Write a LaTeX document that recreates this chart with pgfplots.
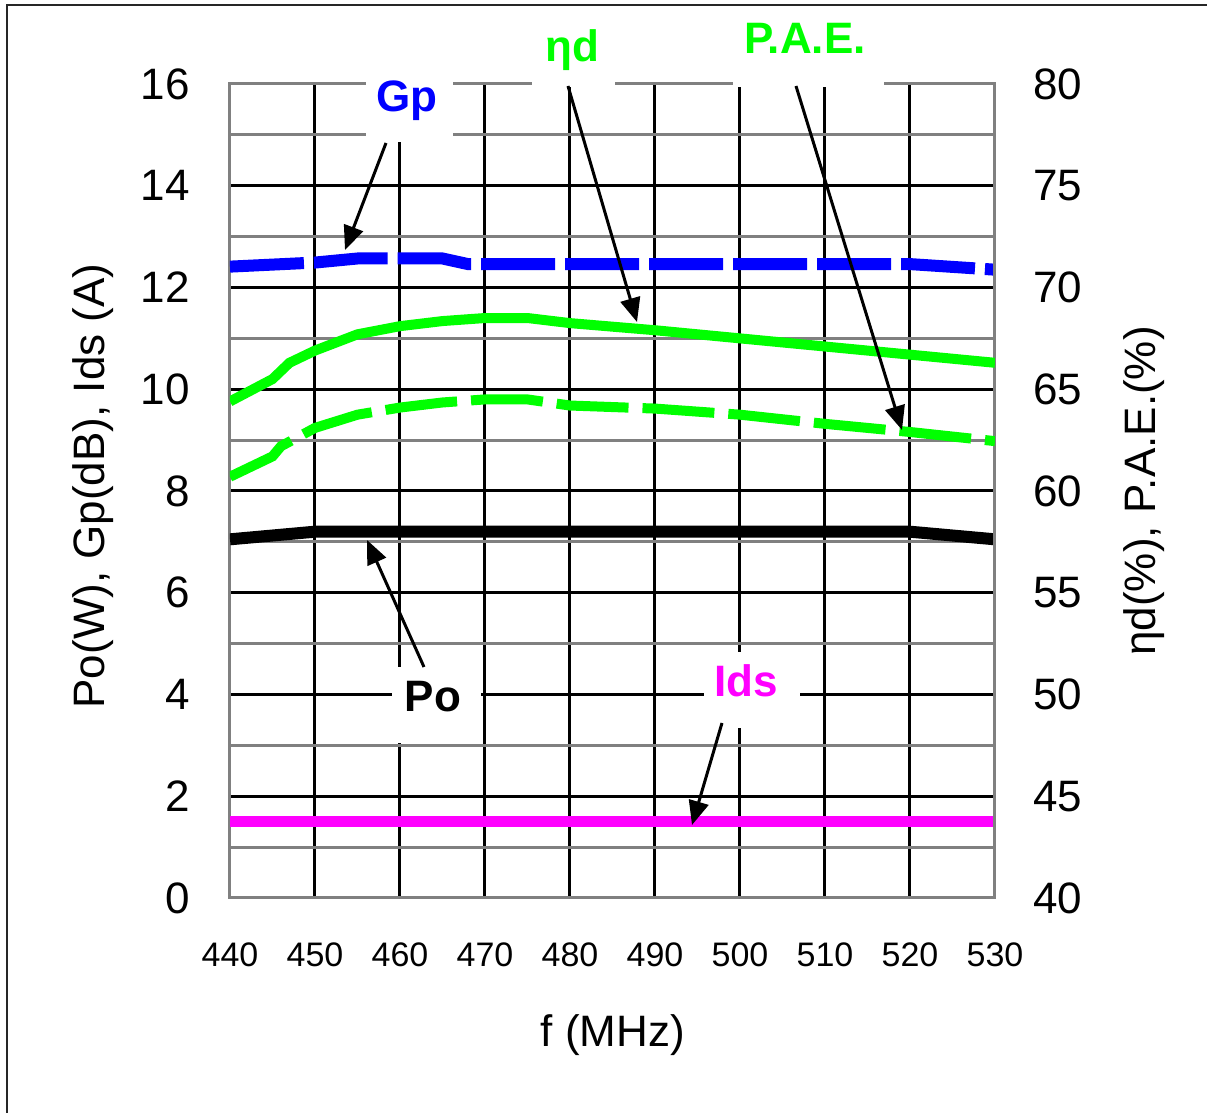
\documentclass[border=0pt]{standalone}
\usepackage{pgfplots}
\pgfplotsset{compat=1.18}
\usepackage{pgfplotstable}
\usepackage{fontspec}
\setmainfont{Liberation Sans}
\usetikzlibrary{arrows.meta}

\definecolor{gpblue}{RGB}{0,0,255}
\definecolor{effgreen}{RGB}{0,255,0}
\definecolor{idsmag}{RGB}{255,0,255}
\definecolor{gridgray}{RGB}{128,128,128}

\newcommand{\bigfont}{\fontsize{22}{26}\selectfont}
\newcommand{\smallfont}{\fontsize{17}{20}\selectfont}

% Output power Po (W)
\pgfplotstableread{
f    Po
440  7.05
450  7.20
460  7.20
470  7.20
480  7.20
490  7.20
500  7.20
510  7.20
520  7.20
530  7.05
}\potable

% Power gain Gp (dB)
\pgfplotstableread{
f    Gp
440  12.41
450  12.49
455  12.57
465  12.57
468  12.46
470  12.46
480  12.46
490  12.46
500  12.46
510  12.46
520  12.46
530  12.35
}\gptable

% Drain current Ids (A)
\pgfplotstableread{
f    Ids
440  1.50
450  1.50
460  1.50
470  1.50
480  1.50
490  1.50
500  1.50
510  1.50
520  1.50
530  1.50
}\idstable

% Drain efficiency (%)
\pgfplotstableread{
f    eta
440  64.4
445  65.5
447  66.3
450  66.9
455  67.7
460  68.1
465  68.35
470  68.5
475  68.5
480  68.25
490  67.9
500  67.5
510  67.1
520  66.7
530  66.3
}\etatable

% Power added efficiency (%)
\pgfplotstableread{
f    pae
440  60.7
445  61.7
446  62.2
450  63.1
455  63.75
460  64.1
465  64.35
470  64.5
475  64.5
480  64.2
490  64.05
500  63.75
510  63.3
520  62.9
530  62.45
}\paetable

\begin{document}
\begin{tikzpicture}
\path[use as bounding box] (-115pt,-107.5pt) rectangle (488.5pt,449pt);

% left axis: Po, Gp, Ids
\begin{axis}[
  at={(0pt,0pt)}, anchor=south west,
  scale only axis, width=382.5pt, height=407pt,
  xmin=440, xmax=530, ymin=0, ymax=16,
  xtick={440,450,...,530},
  ytick={0,2,...,16},
  minor y tick num=1,
  xmajorgrids, ymajorgrids, yminorgrids,
  major grid style={black, line width=1.5pt},
  minor grid style={gridgray, line width=1.6pt},
  major tick length=0pt, minor tick length=0pt,
  axis line style={gridgray, line width=1.5pt},
  /pgf/number format/assume math mode=true,
  /pgf/number format/1000 sep={},
  xticklabel style={font=\smallfont, anchor=north, inner sep=0pt, yshift=-22pt},
  yticklabel style={font=\bigfont, anchor=east, inner sep=0pt, xshift=-20pt},
]
\addplot[black, line width=6pt, no markers] table[x=f, y=Po] {\potable};
\addplot[gpblue, line width=6pt, no markers, dash pattern=on 37pt off 5pt] table[x=f, y=Gp] {\gptable};
\addplot[idsmag, line width=5.5pt, no markers] table[x=f, y=Ids] {\idstable};
\end{axis}

% right axis: efficiencies
\begin{axis}[
  at={(0pt,0pt)}, anchor=south west,
  scale only axis, width=382.5pt, height=407pt,
  xmin=440, xmax=530, ymin=40, ymax=80,
  axis x line=none, axis y line*=right,
  ytick={40,45,...,80},
  major tick length=0pt,
  axis line style={gridgray, line width=1.5pt},
  /pgf/number format/assume math mode=true,
  yticklabel style={font=\bigfont, anchor=west, inner sep=0pt, xshift=19pt},
]
\addplot[effgreen, line width=5pt, no markers] table[x=f, y=eta] {\etatable};
\addplot[effgreen, line width=5pt, no markers, dash pattern=on 36pt off 7pt] table[x=f, y=pae] {\paetable};
\end{axis}

% annotations, in picture pixel units
\begin{scope}[x=0.5pt, y=-0.5pt, shift={(-115pt,449pt)}]
  % outer frame
  \draw[black!85, line width=1pt] (7,1113) -- (7,5) -- (1207,5);

  % label backgrounds
  \fill[white] (366,70) rectangle (453,142);
  \fill[white] (532,18) rectangle (615,87);
  \fill[white] (733,10) rectangle (884,87);
  \fill[white] (392,667) rectangle (481,743);
  \fill[white] (704,652) rectangle (800,728);

  % curve labels
  \node[font=\bigfont\bfseries, text=gpblue, anchor=base, inner sep=0pt] at (407,112) {Gp};
  \node[font=\bigfont\bfseries, text=effgreen, anchor=base, inner sep=0pt] at (572,62) {ηd};
  \node[font=\bigfont\bfseries, text=effgreen, anchor=base, inner sep=0pt] at (805,54) {P.A.E.};
  \node[font=\bigfont\bfseries, text=black, anchor=base, inner sep=0pt] at (433,712) {Po};
  \node[font=\bigfont\bfseries, text=idsmag, anchor=base, inner sep=0pt] at (746,697) {Ids};

  % pointers
  \begin{scope}[line width=1.5pt, -{Triangle[length=12pt,width=10pt]}]
    \draw (386,143) -- (345,250);
    \draw (568,86) -- (637,322);
    \draw (796,86) -- (902,430);
    \draw (424,667) -- (367,540);
    \draw (722,723) -- (692,825);
  \end{scope}

  % axis titles
  \node[font=\bigfont, rotate=90, anchor=base, inner sep=0pt] at (105,486) {Po(W), Gp(dB), Ids (A)};
  \node[font=\bigfont, rotate=90, anchor=base, inner sep=0pt] at (1155,491) {ηd(\%), P.A.E.(\%)};
  \node[font=\bigfont, anchor=base, inner sep=0pt] at (613,1047) {f (MHz)};
\end{scope}
\end{tikzpicture}
\end{document}
